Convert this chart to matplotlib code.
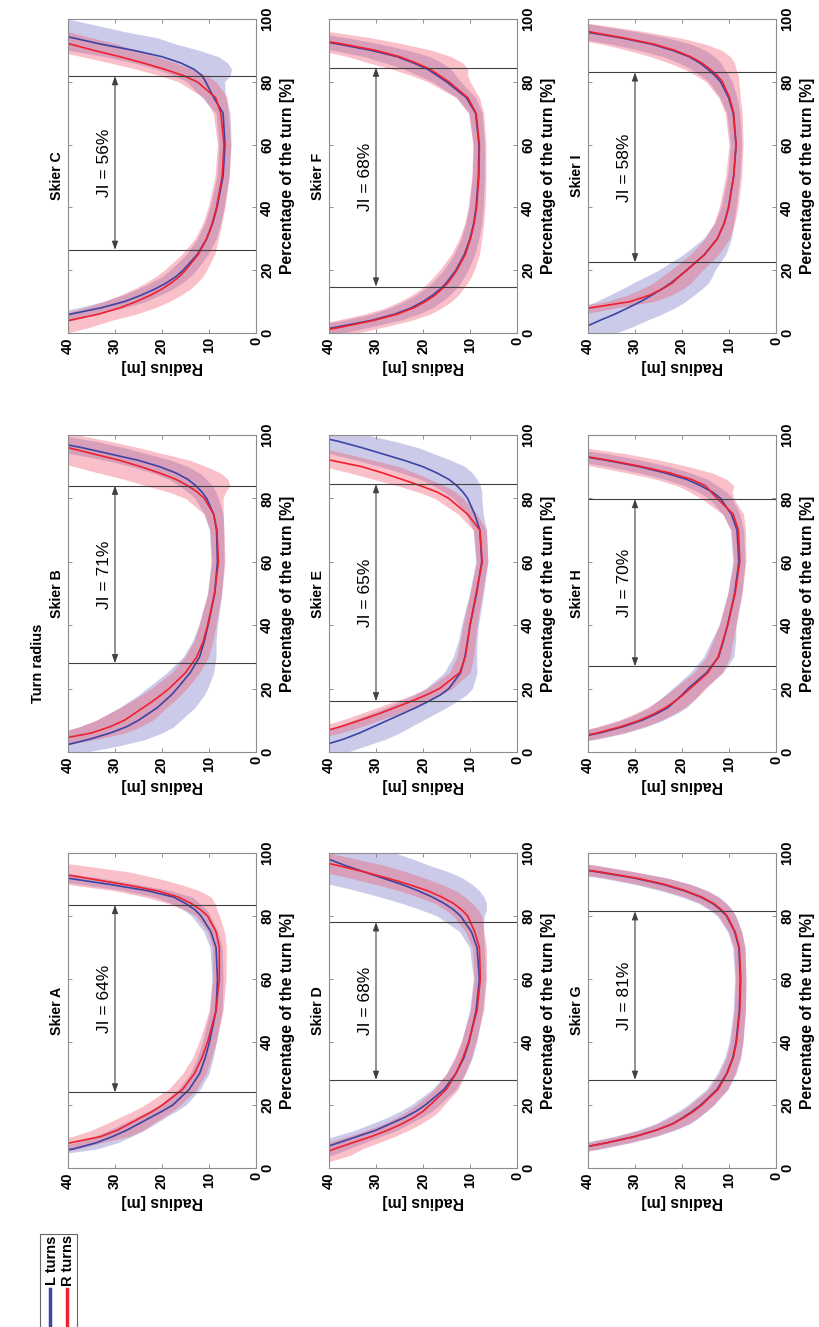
import matplotlib.pyplot as plt
from matplotlib.patches import Rectangle
from matplotlib.lines import Line2D
import numpy as np

plt.rcParams['font.family'] = ['Liberation Sans', 'DejaVu Sans']

# percentage of the turn at which radius values were read
PCT = [0, 2, 4, 6, 8, 10, 12, 14, 16, 18, 20, 25, 30, 35, 40, 50, 60, 70, 75, 80,
       82, 84, 86, 88, 90, 92, 94, 96, 98, 100]

# mean radius [m], L turns / R turns, and their SD
A_L = [70, 60, 50, 39, 34, 30.5, 27.5, 25, 22.5, 20, 17.7, 14.2, 12, 10.8, 9.9, 8.5, 8.2, 8.5, 9.6, 11.7,
       13, 15, 17.5, 23, 31, 40, 50, 60, 70, 80]
A_R = [80, 65, 52, 45, 39.5, 33, 29.5, 27, 24.5, 22, 19.9, 15.6, 13.1, 11.5, 10.3, 8.5, 7.8, 7.8, 8.5, 10.3,
       11.8, 13.8, 16.5, 21, 28, 36, 44, 55, 65, 75]
A_L_SD = [8, 7, 6, 5, 4.5, 4, 3.8, 3.5, 3.2, 3, 2.8, 2.3, 2, 1.7, 1.5, 1.3, 1.2, 1.3, 1.5, 2,
          2.5, 3, 4, 5, 6, 7, 8, 9, 10, 10]
A_R_SD = [10, 9, 8, 7, 6.5, 6, 5.5, 5, 4.6, 4.2, 3.8, 3, 2.5, 2, 1.8, 1.5, 1.4, 1.5, 1.8, 2.5,
          3.5, 5, 7, 9, 12, 15, 17, 18, 18, 18]

B_L = [48, 41, 35.5, 31, 27.5, 25, 23, 21, 19.5, 18, 16.8, 14, 12, 11, 10.2, 8.8, 8.2, 8.4, 9, 10.5,
       11.5, 12.8, 14.5, 17, 20.5, 25, 31, 37, 44, 52]
B_R = [60, 50, 42, 35, 31, 28, 26, 24, 22, 20.2, 18.5, 15, 12.6, 11.2, 10.3, 8.8, 8, 8.3, 9, 11,
       12.5, 14.5, 17, 20.5, 24.5, 29, 34.5, 40, 46, 53]
B_L_SD = [12, 12, 12, 11, 10, 9, 8.5, 8, 7.5, 7, 6.5, 5, 3.5, 2.5, 2, 1.5, 1.4, 1.5, 2, 2.5,
          3, 3.5, 4, 5, 6, 7, 8, 9, 10, 10]
B_R_SD = [10, 9, 8, 7, 6.5, 6, 5.5, 5, 4.6, 4.2, 3.8, 3, 2.5, 2, 1.8, 1.5, 1.4, 1.5, 2, 4,
          6, 9, 11, 13, 14, 15, 15, 15, 15, 15]

C_L = [60, 52, 45, 39.5, 33, 28, 24.5, 21.5, 19, 17, 15.5, 12.5, 10.5, 9.2, 8.3, 7, 6.6, 7, 9, 10.7,
       11.5, 13.2, 16, 20, 26, 33, 39, 46, 52, 58]
C_R = [50, 45, 39.8, 33.5, 29, 25.5, 22.5, 20, 18, 16.3, 15, 12.3, 10.5, 9.3, 8.4, 7.2, 6.8, 7.5, 8.6, 12.5,
       15.5, 19.5, 24, 29, 34.5, 39.5, 45, 50, 55, 60]
C_L_SD = [8, 7, 6, 5.5, 5, 4.5, 4, 3.7, 3.4, 3, 2.8, 2.3, 2, 1.7, 1.5, 1.3, 1.3, 1.5, 2.5, 4,
          6, 8, 10, 12, 14, 16, 18, 18, 18, 18]
C_R_SD = [10, 10, 9, 8, 7.5, 7, 6.5, 6, 5.5, 5, 4.5, 3.5, 2.5, 2, 1.8, 1.5, 1.4, 1.6, 2.5, 4,
          5, 6, 7, 8, 9, 10, 10, 10, 10, 10]

D_L = [60, 52, 46, 42, 38, 34, 30, 27, 24, 21.5, 19.5, 15.5, 13, 11.3, 10.2, 8.7, 8, 8.5, 9.7, 12,
       13.5, 15.5, 18, 21, 24.5, 28.5, 32.5, 36.5, 40, 44]
D_R = [55, 47, 42, 39, 35, 31, 27.5, 24.5, 22, 20, 18.5, 15, 13, 11.5, 10.3, 8.5, 7.8, 8, 9, 10.5,
       11.8, 13.5, 16, 19, 23, 27.5, 32.5, 38, 44, 50]
D_L_SD = [8, 7, 6.5, 6, 5.5, 5, 4.5, 4, 3.7, 3.4, 3, 2.5, 2, 1.8, 1.6, 1.4, 1.3, 1.6, 2.5, 5,
          7, 9, 11, 13, 15, 17, 18, 18, 18, 18]
D_R_SD = [8, 7, 6.5, 6, 5.5, 5, 4.5, 4, 3.7, 3.4, 3, 2.5, 2, 1.8, 1.6, 1.4, 1.3, 1.5, 2, 3,
          3.5, 4, 5, 6, 7, 8, 9, 10, 10, 10]

E_L = [46, 41.5, 37, 33.5, 30.5, 27.5, 24.5, 21.5, 18.8, 16.3, 14.5, 12, 11.1, 10.5, 10, 8.6, 7.5, 7.9, 9, 10.5,
       11.5, 12.8, 14.5, 17, 20, 24, 28.5, 33, 38, 44]
E_R = [70, 58, 49, 42.5, 37.5, 33.4, 29.5, 26, 22.5, 19.3, 16.5, 12.2, 11, 10.5, 10, 8.7, 7.4, 7.9, 10.5, 14.5,
       17, 20.5, 24.5, 28.5, 33, 39.5, 46, 52, 58, 64]
E_L_SD = [10, 9.5, 9, 8.5, 8, 7.5, 7, 6.5, 6, 5.5, 5, 3.5, 2.5, 2, 1.8, 1.5, 1.3, 1.4, 1.8, 3,
          4, 5, 6, 7.5, 9, 10, 11, 12, 12, 12]
E_R_SD = [6, 6, 5.5, 5, 4.5, 4, 4, 3.8, 3.5, 3, 2.7, 2.2, 1.8, 1.6, 1.5, 1.3, 1.2, 1.4, 2, 3,
          4, 5, 6, 7, 8, 9, 10, 10, 10, 10]

F_L = [45, 38, 31, 26, 22.5, 20, 18, 16.3, 15, 14, 13, 11.2, 10, 9.2, 8.7, 8.2, 8.1, 8.8, 10.8, 15,
       17, 19, 22, 25.5, 31, 38, 46, 55, 65, 75]
F_R = [44, 37, 30.5, 25.5, 22, 19.5, 17.5, 16, 14.7, 13.7, 12.8, 11, 9.9, 9.1, 8.6, 8.1, 8, 8.7, 10.5, 14.5,
       16.5, 18.5, 21.5, 25, 30, 37, 45, 54, 64, 74]
F_L_SD = [8, 7, 6, 5, 4.5, 4, 3.6, 3.3, 3, 2.8, 2.6, 2.2, 1.9, 1.7, 1.5, 1.3, 1.2, 1.4, 2, 3,
          4, 5, 6, 7, 8, 9, 10, 10, 10, 10]
F_R_SD = [10, 9, 8, 7, 6, 5.5, 5, 4.5, 4.2, 4, 3.7, 3, 2.4, 2, 1.8, 1.5, 1.4, 1.6, 2.5, 4.5,
          6, 8, 10, 11, 12, 13, 14, 14, 14, 14]

G_L = [70, 60, 51, 43, 36, 30, 25.5, 22, 19.8, 17.8, 16, 12.5, 10.5, 9.2, 8.5, 7.8, 7.6, 7.9, 8.8, 10.5,
       11.8, 13.5, 16, 19.5, 24, 30, 38, 47, 57, 67]
G_R = [70, 60, 51, 43, 36, 30, 25.5, 22, 19.6, 17.5, 15.8, 12.3, 10.4, 9.1, 8.4, 7.7, 7.5, 7.8, 8.7, 10.4,
       11.6, 13.3, 15.8, 19.2, 23.6, 29.5, 37.5, 46.5, 56, 66]
G_L_SD = [8, 7, 6, 5.5, 5, 4.5, 4, 3.7, 3.4, 3, 2.8, 2.3, 2, 1.7, 1.5, 1.3, 1.2, 1.3, 1.5, 2,
          2.5, 3, 4, 5, 6, 7, 8, 9, 10, 10]
G_R_SD = [7, 6, 5.5, 5, 4.5, 4, 3.6, 3.3, 3, 2.7, 2.5, 2, 1.7, 1.5, 1.3, 1.2, 1.1, 1.2, 1.4, 1.8,
          2.2, 2.7, 3.5, 4.5, 5.5, 6.5, 7.5, 8.5, 9, 9]

H_L = [70, 55, 44, 37.5, 32.5, 28.5, 25.5, 23, 21.5, 20, 18.7, 14.8, 12.2, 11.2, 10.3, 8.8, 7.9, 8.3, 9.5, 11.8,
       13.5, 16, 19, 23.5, 29, 36, 44, 54, 63, 72]
H_R = [72, 57, 45, 38, 33, 29, 26, 23.5, 21.5, 19.8, 18.3, 14.5, 12.3, 11.3, 10.3, 8.7, 7.7, 8, 9.1, 12.5,
       13.8, 15, 18, 22.5, 28.5, 35.5, 43.5, 53, 62, 71]
H_L_SD = [8, 7, 6, 5.5, 5, 4.5, 4.2, 4, 3.8, 3.6, 3.4, 3.5, 3.2, 2.6, 1.8, 1.5, 1.3, 1.4, 1.8, 2.5,
          3, 3.5, 4.5, 5.5, 6.5, 7.5, 8.5, 9, 9, 9]
H_R_SD = [8, 7, 6, 5.5, 5, 4.5, 4.2, 4, 3.8, 3.6, 3.4, 3, 2.5, 2.1, 1.8, 1.5, 1.3, 1.5, 2.2, 3.5,
          4.5, 6, 7.5, 9, 10, 11, 12, 12, 12, 12]

I_L = [44, 40.5, 37.5, 34.3, 31.5, 28.8, 26.5, 24.3, 22.3, 20.6, 19, 15.2, 12.5, 11, 10.1, 9, 8.5, 9.1, 10.1, 11.8,
       13, 14.5, 16.2, 18.5, 22, 26.5, 33, 41, 50, 60]
I_R = [80, 68, 57, 47, 39.5, 31, 27, 24.2, 22, 20.6, 19, 15.2, 12.5, 11, 10.1, 9, 8.5, 9, 9.9, 11.4,
       12.5, 14, 15.8, 18.2, 21.5, 26, 32.5, 40, 49, 58]
I_L_SD = [10, 10, 10, 10, 10, 9.5, 9, 8.5, 8, 7, 6, 4.5, 3, 2, 1.6, 1.3, 1.2, 1.4, 1.8, 2.5,
          3, 3.5, 4.5, 5.5, 7, 8.5, 10, 11, 12, 12]
I_R_SD = [8, 7, 6.5, 6, 5.5, 5, 4.7, 4.4, 4, 3.7, 3.4, 3, 2.6, 2.2, 2, 1.7, 1.5, 1.8, 2.3, 3.5,
          4.5, 5.5, 7, 8.5, 10, 11, 12, 12, 12, 12]

SKIERS = ['A', 'B', 'C', 'D', 'E', 'F', 'G', 'H', 'I']
L_MEAN = [A_L, B_L, C_L, D_L, E_L, F_L, G_L, H_L, I_L]
R_MEAN = [A_R, B_R, C_R, D_R, E_R, F_R, G_R, H_R, I_R]
L_SD = [A_L_SD, B_L_SD, C_L_SD, D_L_SD, E_L_SD, F_L_SD, G_L_SD, H_L_SD, I_L_SD]
R_SD = [A_R_SD, B_R_SD, C_R_SD, D_R_SD, E_R_SD, F_R_SD, G_R_SD, H_R_SD, I_R_SD]
JI = [64, 71, 56, 68, 65, 68, 81, 70, 58]
JI_START = [24, 28, 26.5, 28, 16, 14.8, 28, 27, 22.5]
JI_END = [83.5, 84, 81.8, 78, 84.5, 84.5, 81.5, 79.8, 83]

BLUE = '#3c44a4'
RED = '#f0202e'

fig = plt.figure(figsize=(8.19, 13.27), dpi=100)

# page is rotated: original rows -> columns (left to right), original columns -> rows (bottom to top)
col_left = [68, 329, 588]
row_top = [853, 435, 19]
row_h = [315, 317, 314]
W, H = 819, 1327

for k, name in enumerate(SKIERS):
    r, c = divmod(k, 3)
    x0 = col_left[r] / W
    y0 = 1 - (row_top[c] + row_h[c]) / H
    ax = fig.add_axes([x0, y0, 188 / W, row_h[c] / H])

    lm = np.array(L_MEAN[k]); ls = np.array(L_SD[k])
    rm = np.array(R_MEAN[k]); rs = np.array(R_SD[k])
    ax.fill_betweenx(PCT, lm - ls, lm + ls, color=(0.33, 0.33, 0.72), alpha=0.3, lw=0)
    ax.fill_betweenx(PCT, rm - rs, rm + rs, color=(0.95, 0.3, 0.4), alpha=0.35, lw=0)
    ax.plot(lm, PCT, color=BLUE, lw=1.2)
    ax.plot(rm, PCT, color=RED, lw=1.2)

    ax.axhline(JI_START[k], color='0.25', lw=0.8)
    ax.axhline(JI_END[k], color='0.25', lw=0.8)
    ax.annotate('', xy=(30, JI_END[k]), xytext=(30, JI_START[k]),
                arrowprops=dict(arrowstyle='<|-|>,head_length=0.5,head_width=0.18',
                                color='0.25', lw=0.8, shrinkA=0, shrinkB=0))
    ax.text(30.6, (JI_START[k] + JI_END[k]) / 2, f'JI = {JI[k]}%', rotation=90,
            ha='right', va='center', fontsize=12.5)

    ax.set_xlim(40, 0)
    ax.set_ylim(0, 100)
    ax.set_xticks([40, 30, 20, 10, 0])
    ax.set_yticks([0, 20, 40, 60, 80, 100])
    ax.yaxis.tick_right()
    ax.yaxis.set_label_position('right')
    ax.tick_params(direction='in', length=3, width=0.6, color='0.5',
                   top=True, bottom=True, left=True, right=True,
                   labelleft=False, labelright=True, labelsize=10.5, pad=3)
    ax.tick_params(axis='x', labelrotation=90)
    ax.tick_params(axis='y', labelrotation=90)
    for t in ax.get_xticklabels() + ax.get_yticklabels():
        t.set_fontweight('bold')
    for t in ax.get_yticklabels():
        t.set_va('center')
    for s in ax.spines.values():
        s.set_color('0.55')
        s.set_linewidth(0.8)

    ax.set_xlabel('Radius [m]', rotation=180, fontsize=11.3, fontweight='bold', labelpad=4)
    ax.set_ylabel('Percentage of the turn [%]', rotation=90, fontsize=11.3, fontweight='bold', labelpad=4)
    ax.text(-0.02, 0.5, f'Skier {name}', transform=ax.transAxes, rotation=90,
            ha='right', va='center', fontsize=10.2, fontweight='bold')

fig.text(38 / W, 1 - 663 / H, 'Turn radius', rotation=90, ha='center', va='center',
         fontsize=10.5, fontweight='bold')

# legend (rotated with the page)
fig.add_artist(Rectangle((40 / W, -0.01), 37 / W, 0.01 + 1 - 1234 / H, transform=fig.transFigure,
                         facecolor='white', edgecolor='0.4', lw=0.8))
fig.add_artist(Line2D([50 / W, 50 / W], [0, 1 - 1289 / H], transform=fig.transFigure, color=BLUE, lw=2.5))
fig.add_artist(Line2D([67 / W, 67 / W], [0, 1 - 1289 / H], transform=fig.transFigure, color=RED, lw=2.5))
fig.text(52 / W, 1 - 1260 / H, 'L turns', rotation=90, ha='center', va='center', fontsize=10.5, fontweight='bold')
fig.text(67.5 / W, 1 - 1260 / H, 'R turns', rotation=90, ha='center', va='center', fontsize=10.5, fontweight='bold')

fig.savefig('out.png', dpi=100)
